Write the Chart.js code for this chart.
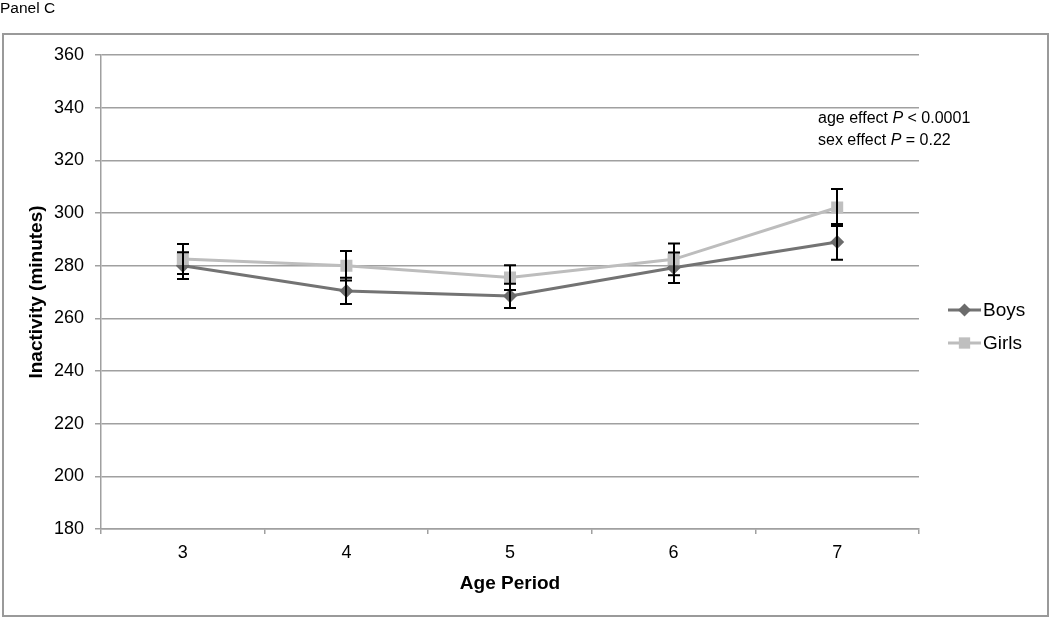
<!DOCTYPE html>
<html>
<head>
<meta charset="utf-8">
<script src="https://cdn.jsdelivr.net/npm/chart.js@4"></script>
<style>
  html, body { margin: 0; padding: 0; background: #fff; }
  #wrap { width: 1050px; height: 617px; position: relative; }
</style>
</head>
<body>
<div id="wrap"><canvas id="chart"></canvas></div>
<script>
// chart data
const agePeriods = ["3", "4", "5", "6", "7"];
const boysMean = [280.0, 270.4, 268.5, 279.2, 289.0];
const boysErr = [5.1, 5.0, 4.6, 5.8, 6.8];
const girlsMean = [282.5, 280.0, 275.5, 282.4, 302.1];
const girlsErr = [5.7, 5.6, 4.7, 6.0, 7.0];
const yTicks = [180, 200, 220, 240, 260, 280, 300, 320, 340, 360];
const notes = ["age effect ", "P", " < 0.0001", "sex effect ", "P", " = 0.22"];

const FONT = "'Liberation Sans', Arial, sans-serif";
const boysLine = "#737373";
const boysPoint = "#6b6b6b";
const girlsLine = "#bdbdbd";
const girlsPoint = "#bfbfbf";

// black error bars on top of the series
const errorBars = {
  id: "errorBars",
  afterDatasetsDraw(chart) {
    const { ctx, scales: { x, y } } = chart;
    ctx.save();
    ctx.strokeStyle = "#000";
    ctx.lineWidth = 2;
    const sets = [[boysMean, boysErr], [girlsMean, girlsErr]];
    sets.forEach(([means, errs]) => {
      means.forEach((m, i) => {
        const px = Math.round(x.getPixelForValue(i));
        const top = y.getPixelForValue(m + errs[i]);
        const bot = y.getPixelForValue(m - errs[i]);
        ctx.beginPath();
        ctx.moveTo(px, top); ctx.lineTo(px, bot);
        ctx.moveTo(px - 6, top); ctx.lineTo(px + 6, top);
        ctx.moveTo(px - 6, bot); ctx.lineTo(px + 6, bot);
        ctx.stroke();
      });
    });
    ctx.restore();
  }
};

// frame, panel label, stats note and the legend
const extras = {
  id: "extras",
  afterDraw(chart) {
    const ctx = chart.ctx;
    ctx.save();
    ctx.strokeStyle = "#9a9a9a";
    ctx.lineWidth = 2;
    ctx.strokeRect(3, 34, 1045, 582);

    ctx.fillStyle = "#000";
    ctx.textBaseline = "middle";
    ctx.font = "15.5px " + FONT;
    ctx.fillText("Panel C", 0, 9);

    // stats note, italic P
    [[0, 119], [3, 141]].forEach(([k, yy]) => {
      let xx = 818;
      for (let j = 0; j < 3; j++) {
        ctx.font = (j === 1 ? "italic " : "") + "16px " + FONT;
        ctx.fillText(notes[k + j], xx, yy);
        xx += ctx.measureText(notes[k + j]).width;
      }
    });

    // legend
    const items = [
      { label: "Boys", line: boysLine, point: boysPoint, style: "rectRot", y: 310 },
      { label: "Girls", line: girlsLine, point: girlsPoint, style: "rect", y: 343 }
    ];
    items.forEach(it => {
      ctx.strokeStyle = it.line;
      ctx.lineWidth = 3;
      ctx.beginPath();
      ctx.moveTo(948, it.y); ctx.lineTo(981, it.y);
      ctx.stroke();
      ctx.fillStyle = it.point;
      Chart.helpers.drawPoint(ctx, { pointStyle: it.style, radius: it.style === "rect" ? 8 : 6.5, borderWidth: 0 }, 964.5, it.y);
      ctx.fillStyle = "#000";
      ctx.font = "19px " + FONT;
      ctx.fillText(it.label, 983, it.y + 1);
    });
    ctx.restore();
  }
};

new Chart(document.getElementById("chart"), {
  type: "line",
  data: {
    labels: agePeriods,
    datasets: [
      {
        label: "Boys",
        data: boysMean,
        borderColor: boysLine,
        borderWidth: 3,
        pointStyle: "rectRot",
        pointRadius: 7,
        pointBackgroundColor: boysPoint,
        pointBorderWidth: 0,
        tension: 0,
        order: 1
      },
      {
        label: "Girls",
        data: girlsMean,
        borderColor: girlsLine,
        borderWidth: 3,
        pointStyle: "rect",
        pointRadius: 8.5,
        pointBackgroundColor: girlsPoint,
        pointBorderWidth: 0,
        tension: 0,
        order: 0
      }
    ]
  },
  options: {
    responsive: true,
    maintainAspectRatio: false,
    animation: false,
    layout: { padding: { left: 0, right: 131, top: 55, bottom: 0 } },
    plugins: {
      legend: { display: false },
      tooltip: { enabled: false }
    },
    scales: {
      x: {
        offset: true,
        afterFit: s => { s.height = 88; },
        grid: { offset: true, drawOnChartArea: false, color: "#a0a0a0", tickLength: 5, lineWidth: 1.5 },
        border: { color: "#a0a0a0", width: 1.5 },
        ticks: { color: "#000", font: { family: FONT, size: 18 }, padding: 8 },
        title: {
          display: true, text: "Age Period", color: "#000",
          font: { family: FONT, size: 19, weight: "bold" },
          padding: { top: 0, bottom: 22 }
        }
      },
      y: {
        min: 180,
        max: 360,
        afterFit: s => { s.width = 101; },
        afterBuildTicks: s => { s.ticks = yTicks.map(v => ({ value: v })); },
        grid: { color: "#a0a0a0", tickLength: 6, lineWidth: 1.5 },
        border: { color: "#a0a0a0", width: 1.5 },
        ticks: { color: "#000", font: { family: FONT, size: 18 }, padding: 11 },
        title: {
          display: true, text: "Inactivity (minutes)", color: "#000",
          font: { family: FONT, size: 19, weight: "bold" },
          padding: { top: 25, bottom: 0 }
        }
      }
    }
  },
  plugins: [errorBars, extras]
});
</script>
</body>
</html>
